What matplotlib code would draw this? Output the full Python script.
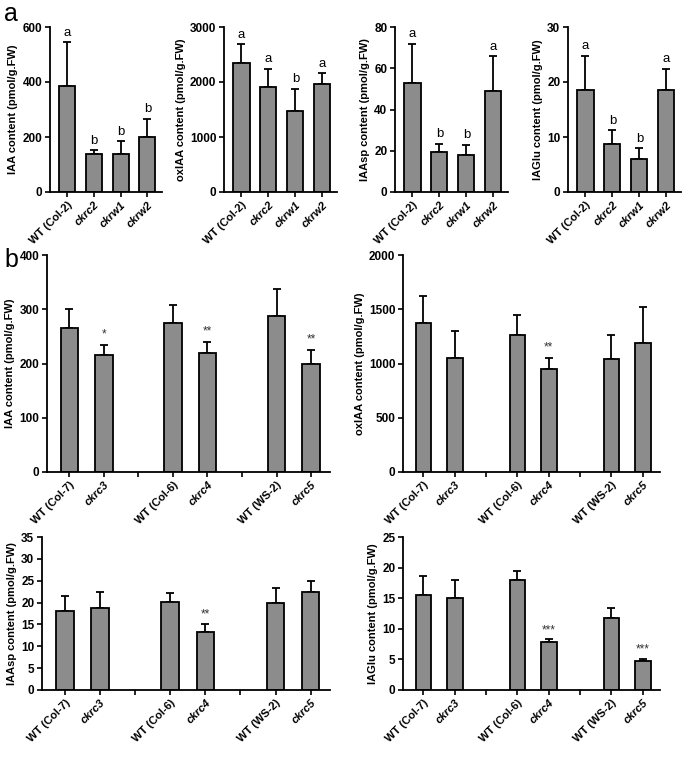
import numpy as np
import matplotlib
matplotlib.use('Agg')
import matplotlib.pyplot as plt

plt.rcParams['font.family'] = ['Liberation Sans', 'DejaVu Sans']

# panel a data
a_labels = ['WT (Col-2)', 'ckrc2', 'ckrw1', 'ckrw2']
a_iaa = [385, 140, 140, 200]
a_iaa_err = [160, 12, 45, 67]
a_iaa_sig = ['a', 'b', 'b', 'b']
a_oxiaa = [2350, 1910, 1470, 1960]
a_oxiaa_err = [340, 330, 410, 200]
a_oxiaa_sig = ['a', 'a', 'b', 'a']
a_iaasp = [53, 19.3, 18, 49]
a_iaasp_err = [19, 4.2, 5, 17]
a_iaasp_sig = ['a', 'b', 'b', 'a']
a_iaglu = [18.5, 8.8, 6.0, 18.5]
a_iaglu_err = [6.3, 2.5, 2.0, 3.9]
a_iaglu_sig = ['a', 'b', 'b', 'a']

# panel b data ('' = empty slot between genotype pairs)
b_labels = ['WT (Col-7)', 'ckrc3', '', 'WT (Col-6)', 'ckrc4', '', 'WT (WS-2)', 'ckrc5']
b_iaa = [265, 215, None, 275, 219, None, 287, 200]
b_iaa_err = [35, 20, None, 32, 21, None, 50, 25]
b_iaa_sig = ['', '*', '', '', '**', '', '', '**']
b_oxiaa = [1370, 1050, None, 1260, 950, None, 1040, 1190]
b_oxiaa_err = [255, 245, None, 190, 100, None, 225, 335]
b_oxiaa_sig = ['', '', '', '', '**', '', '', '']
b_iaasp = [18.0, 18.8, None, 20.2, 13.3, None, 20.0, 22.4]
b_iaasp_err = [3.5, 3.7, None, 2.0, 1.8, None, 3.4, 2.6]
b_iaasp_sig = ['', '', '', '', '**', '', '', '']
b_iaglu = [15.5, 15.0, None, 17.9, 7.9, None, 11.8, 4.8]
b_iaglu_err = [3.2, 2.9, None, 1.6, 0.4, None, 1.6, 0.3]
b_iaglu_sig = ['', '', '', '', '***', '', '', '***']

bar_color = '#8c8c8c'
italic_names = ['ckrc2', 'ckrw1', 'ckrw2', 'ckrc3', 'ckrc4', 'ckrc5']


def draw(ax, labels, vals, errs, sig, ymax, ystep, ylabel, width, sig_size):
    pos = np.arange(len(labels))
    keep = [i for i in range(len(labels)) if vals[i] is not None]
    x = pos[keep]
    v = np.array([vals[i] for i in keep])
    e = np.array([errs[i] for i in keep])
    ax.bar(x, v, width=width, color=bar_color, edgecolor='black', linewidth=1.3, zorder=2)
    ax.errorbar(x, v, yerr=[np.zeros(len(e)), e], fmt='none', ecolor='black',
                elinewidth=1.3, capsize=3, capthick=1.3, zorder=1)
    for i, xi in enumerate(x):
        s = sig[keep[i]]
        if s:
            star = s.startswith('*')
            ax.text(xi, v[i] + e[i] + ymax * 0.02, s, ha='center', va='bottom',
                    fontsize=sig_size - (1 if star else 0), color='#333333' if star else 'black')
    ax.set_xlim(-0.65, len(labels) - 0.45)
    ax.set_ylim(0, ymax)
    ax.set_yticks(np.arange(0, ymax + ystep / 2, ystep))
    ax.set_xticks(pos)
    ax.set_xticklabels(labels, rotation=45, ha='right', rotation_mode='anchor')
    for t in ax.get_xticklabels():
        t.set_fontweight('bold')
        t.set_fontsize(8)
        if t.get_text() in italic_names:
            t.set_fontstyle('italic')
    for t in ax.get_yticklabels():
        t.set_fontweight('bold')
        t.set_fontsize(8.5)
    ax.set_ylabel(ylabel, fontsize=8, fontweight='bold', labelpad=3)
    ax.spines['top'].set_visible(False)
    ax.spines['right'].set_visible(False)
    ax.spines['left'].set_linewidth(1.3)
    ax.spines['bottom'].set_linewidth(1.3)
    ax.tick_params(direction='out', length=3.5, width=1.2, pad=2)


fig = plt.figure(figsize=(6.85, 7.59), dpi=100)
W, H = 685.0, 759.0


def add_axes(x0, x1, ytop, ybot):
    return fig.add_axes([x0 / W, 1 - ybot / H, (x1 - x0) / W, (ybot - ytop) / H])


# row a
ax = add_axes(50, 162, 27, 192)
draw(ax, a_labels, a_iaa, a_iaa_err, a_iaa_sig, 600, 200, 'IAA content (pmol/g.FW)', 0.6, 9.5)
ax = add_axes(224, 337, 27, 192)
draw(ax, a_labels, a_oxiaa, a_oxiaa_err, a_oxiaa_sig, 3000, 1000, 'oxIAA content (pmol/g.FW)', 0.6, 9.5)
ax = add_axes(395, 508, 27, 192)
draw(ax, a_labels, a_iaasp, a_iaasp_err, a_iaasp_sig, 80, 20, 'IAAsp content (pmol/g.FW)', 0.6, 9.5)
ax = add_axes(568, 681, 27, 192)
draw(ax, a_labels, a_iaglu, a_iaglu_err, a_iaglu_sig, 30, 10, 'IAGlu content (pmol/g.FW)', 0.6, 9.5)

# row b top
ax = add_axes(47, 330, 255, 472)
draw(ax, b_labels, b_iaa, b_iaa_err, b_iaa_sig, 400, 100, 'IAA content (pmol/g.FW)', 0.5, 9.5)
ax = add_axes(403, 660, 255, 472)
draw(ax, b_labels, b_oxiaa, b_oxiaa_err, b_oxiaa_sig, 2000, 500, 'oxIAA content (pmol/g.FW)', 0.5, 9.5)

# row b bottom
ax = add_axes(42, 330, 537, 690)
draw(ax, b_labels, b_iaasp, b_iaasp_err, b_iaasp_sig, 35, 5, 'IAAsp content (pmol/g.FW)', 0.5, 9.5)
ax = add_axes(403, 660, 537, 690)
draw(ax, b_labels, b_iaglu, b_iaglu_err, b_iaglu_sig, 25, 5, 'IAGlu content (pmol/g.FW)', 0.5, 9.5)

fig.text(4 / W, 1 - 2 / H, 'a', fontsize=18, va='top', ha='left')
fig.text(4 / W, 1 - 248 / H, 'b', fontsize=18, va='top', ha='left')

fig.savefig('out.png', dpi=100)
